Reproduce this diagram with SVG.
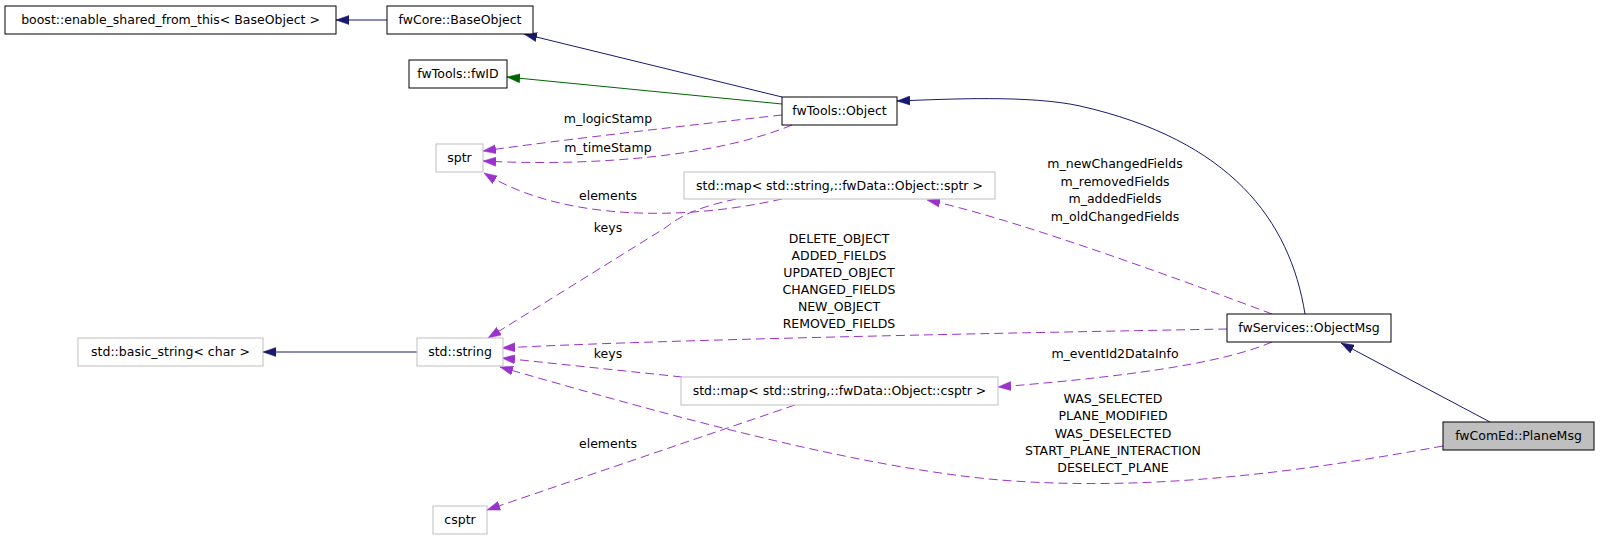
<svg xmlns="http://www.w3.org/2000/svg" width="1600" height="540" viewBox="0 0 1600 540">
<style>
  text { font-family: "DejaVu Sans", "Liberation Sans", sans-serif; font-size: 12.5px; fill: #000; }
  .nt { text-anchor: middle; }
  .lb { text-anchor: middle; }
  .doc { fill: #fff; stroke: #000; stroke-width: 1; }
  .und { fill: #fff; stroke: #bfbfbf; stroke-width: 1; }
  .cur { fill: #bfbfbf; stroke: #000; stroke-width: 1; }
  .inh { fill: none; stroke: #191970; stroke-width: 1; marker-end: url(#aNavy); }
  .inhg { fill: none; stroke: #006400; stroke-width: 1; marker-end: url(#aGreen); }
  .use { fill: none; stroke: #9a32cd; stroke-width: 1; stroke-dasharray: 9,5; marker-end: url(#aPurple); }
</style>
<defs>
  <marker id="aNavy" markerUnits="userSpaceOnUse" markerWidth="14" markerHeight="10" refX="13" refY="5" orient="auto" viewBox="0 0 14 10">
    <path d="M0,0.5 L13,5 L0,9.5 z" fill="#191970" stroke="#191970" stroke-width="0.5"/>
  </marker>
  <marker id="aGreen" markerUnits="userSpaceOnUse" markerWidth="14" markerHeight="10" refX="13" refY="5" orient="auto" viewBox="0 0 14 10">
    <path d="M0,0.5 L13,5 L0,9.5 z" fill="#006400" stroke="#006400" stroke-width="0.5"/>
  </marker>
  <marker id="aPurple" markerUnits="userSpaceOnUse" markerWidth="14" markerHeight="10" refX="13" refY="5" orient="auto" viewBox="0 0 14 10">
    <path d="M0,0.5 L13,5 L0,9.5 z" fill="#9a32cd" stroke="#9a32cd" stroke-width="0.5"/>
  </marker>
</defs>
<rect width="1600" height="540" fill="#fff"/>

<g id="connectors">
  <path class="inh" d="M387,20 L336,20"/>
  <path class="inh" d="M782,97 L524,34"/>
  <path class="inhg" d="M782,104 L507,77"/>
  <path class="inh" d="M1305,314 C1290,220 1230,140 1080,106 C1030,95 950,99 897,101"/>
  <path class="inh" d="M1490,422 L1341,343"/>
  <path class="inh" d="M417,352 L263,352"/>

  <path class="use" d="M782,115 C700,124 560,140 483,151"/>
  <path class="use" d="M792,125 C720,155 600,167 483,161"/>
  <path class="use" d="M782,199 C680,222 560,220 484,173"/>
  <path class="use" d="M736,199 C705,206 685,212 665,228 L488,338"/>
  <path class="use" d="M1272,314 C1150,268 1000,215 927,200"/>
  <path class="use" d="M1227,329 C1000,333 650,340 502,348"/>
  <path class="use" d="M1272,342 C1230,360 1150,375 998,387"/>
  <path class="use" d="M682,377 L502,358"/>
  <path class="use" d="M1443,446 C1300,472 1150,492 1000,480 C850,467 650,410 500,367"/>
  <path class="use" d="M795,405 L487,510"/>

  <text class="lb" x="608" y="123">m_logicStamp</text>
  <text class="lb" x="608" y="152">m_timeStamp</text>
  <text class="lb" x="608" y="200">elements</text>
  <text class="lb" x="608" y="232">keys</text>
  <text class="lb" x="1115" y="168">m_newChangedFields<tspan x="1115" dy="17.5">m_removedFields</tspan><tspan x="1115" dy="17.5">m_addedFields</tspan><tspan x="1115" dy="17.5">m_oldChangedFields</tspan></text>
  <text class="lb" x="839" y="243">DELETE_OBJECT<tspan x="839" dy="17">ADDED_FIELDS</tspan><tspan x="839" dy="17">UPDATED_OBJECT</tspan><tspan x="839" dy="17">CHANGED_FIELDS</tspan><tspan x="839" dy="17">NEW_OBJECT</tspan><tspan x="839" dy="17">REMOVED_FIELDS</tspan></text>
  <text class="lb" x="608" y="358">keys</text>
  <text class="lb" x="1115" y="358">m_eventId2DataInfo</text>
  <text class="lb" x="1113" y="403">WAS_SELECTED<tspan x="1113" dy="17.3">PLANE_MODIFIED</tspan><tspan x="1113" dy="17.3">WAS_DESELECTED</tspan><tspan x="1113" dy="17.3">START_PLANE_INTERACTION</tspan><tspan x="1113" dy="17.3">DESELECT_PLANE</tspan></text>
  <text class="lb" x="608" y="448">elements</text>
</g>

<g id="node-boost"><rect class="doc" x="5" y="6" width="331" height="28"/><text class="nt" x="170.5" y="24">boost::enable_shared_from_this&lt; BaseObject &gt;</text></g>
<g id="node-baseobject"><rect class="doc" x="387" y="6" width="146" height="28"/><text class="nt" x="460" y="24">fwCore::BaseObject</text></g>
<g id="node-fwid"><rect class="doc" x="409" y="60" width="98" height="28"/><text class="nt" x="458" y="78">fwTools::fwID</text></g>
<g id="node-object"><rect class="doc" x="782" y="97" width="115" height="28"/><text class="nt" x="839.5" y="115">fwTools::Object</text></g>
<g id="node-sptr"><rect class="und" x="436" y="144" width="47" height="28"/><text class="nt" x="459.5" y="162">sptr</text></g>
<g id="node-mapsptr"><rect class="und" x="684" y="172" width="311" height="27"/><text class="nt" x="839.5" y="190">std::map&lt; std::string,::fwData::Object::sptr &gt;</text></g>
<g id="node-basicstring"><rect class="und" x="78" y="338" width="185" height="28"/><text class="nt" x="170.5" y="356">std::basic_string&lt; char &gt;</text></g>
<g id="node-string"><rect class="und" x="417" y="338" width="86" height="28"/><text class="nt" x="460" y="356">std::string</text></g>
<g id="node-objectmsg"><rect class="doc" x="1227" y="314" width="164" height="28"/><text class="nt" x="1309" y="332">fwServices::ObjectMsg</text></g>
<g id="node-mapcsptr"><rect class="und" x="681" y="377" width="317" height="28"/><text class="nt" x="839.5" y="395">std::map&lt; std::string,::fwData::Object::csptr &gt;</text></g>
<g id="node-planemsg"><rect class="cur" x="1443" y="422" width="151" height="28"/><text class="nt" x="1518.5" y="440">fwComEd::PlaneMsg</text></g>
<g id="node-csptr"><rect class="und" x="433" y="506" width="54" height="28"/><text class="nt" x="460" y="524">csptr</text></g>
</svg>
